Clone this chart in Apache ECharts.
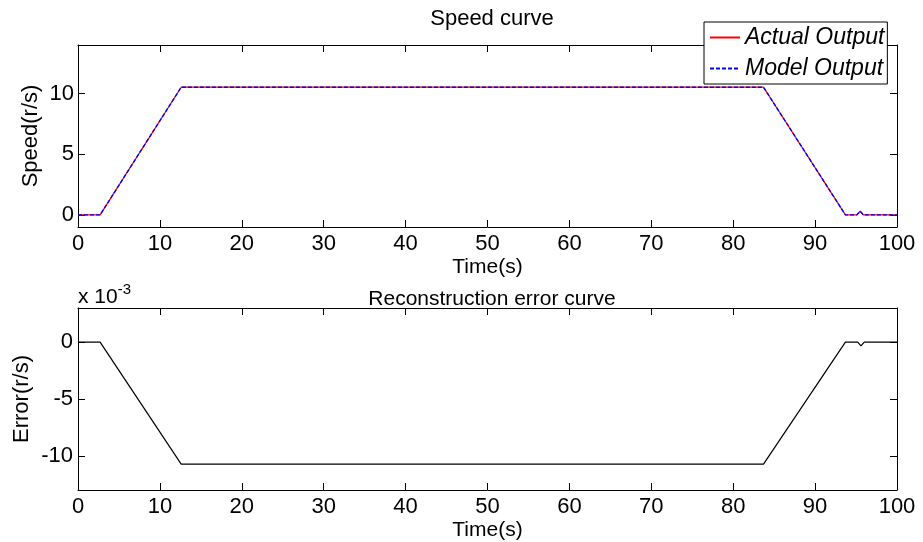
<!DOCTYPE html>
<html>
<head>
<meta charset="utf-8">
<script src="https://cdn.jsdelivr.net/npm/echarts@6/dist/echarts.min.js"></script>
<style>html,body{margin:0;padding:0;background:#fff;}#c{width:923px;height:542px;}</style>
</head>
<body>
<div id="c"></div>
<script>
// Key time points (s)
var timeS = [0, 2.7, 12.6, 83.7, 93.7, 95.1, 95.5, 95.9, 100];
// Speed (r/s)
var actualOutput = [0, 0, 10.52, 10.52, 0, 0, 0.3, 0, 0];
var modelOutput  = [0, 0, 10.52, 10.52, 0, 0, 0.3, 0, 0];
// Reconstruction error (r/s)
var timeE = [0, 2.7, 12.6, 83.7, 93.7, 95.2, 95.6, 96.0, 100];
var errorVals = [0, 0, -0.01073, -0.01073, 0, 0, -0.00033, 0, 0];
var xTicks = [0, 10, 20, 30, 40, 50, 60, 70, 80, 90, 100];

var FONT = 'Liberation Sans, Arial, sans-serif';
var FS = 22;
function pairs(xs, ys) { return xs.map(function (x, i) { return [x, ys[i]]; }); }

var chart = echarts.init(document.getElementById('c'), null, {renderer: 'canvas'});
var axisLine = {show: true, onZero: false, lineStyle: {color: '#000', width: 1}};
var tick = {show: true, inside: true, length: 7, lineStyle: {color: '#000', width: 1}};
var lbl = {color: '#000', fontSize: FS, fontFamily: FONT};

function xMain(grid) {
  return {type: 'value', gridIndex: grid, min: 0, max: 100, interval: 10, position: 'bottom',
    axisLine: axisLine, axisTick: tick, splitLine: {show: false},
    axisLabel: Object.assign({margin: 6}, lbl),
    name: 'Time(s)', nameLocation: 'middle', nameGap: 30, nameMoveOverlap: false,
    nameTextStyle: {color: '#000', fontSize: 21, fontFamily: FONT}};
}
function xTop(grid) {
  return {type: 'value', gridIndex: grid, min: 0, max: 100, interval: 10, position: 'top',
    axisLine: axisLine, axisTick: tick, axisLabel: {show: false}, splitLine: {show: false}};
}

chart.setOption({
  animation: false,
  backgroundColor: '#fff',
  textStyle: {fontFamily: FONT},
  title: [
    {text: 'Speed curve', left: 487, top: 3, textAlign: 'center',
     textStyle: {color: '#000', fontSize: 22, fontWeight: 'normal', fontFamily: FONT}},
    {text: 'Reconstruction error curve', left: 487, top: 284, textAlign: 'center',
     textStyle: {color: '#000', fontSize: 21, fontWeight: 'normal', fontFamily: FONT}}
  ],
  legend: {
    left: 704, top: 22, orient: 'vertical', itemWidth: 30, itemHeight: 10, itemGap: 8,
    backgroundColor: '#fff', borderColor: '#000', borderWidth: 1, padding: [4, 3, 4, 5],
    itemStyle: {opacity: 0},
    textStyle: {color: '#000', fontSize: 23, fontStyle: 'italic', fontFamily: FONT},
    data: ['Actual Output', 'Model Output']
  },
  grid: [
    {left: 78, right: 26, top: 45, height: 182},
    {left: 78, right: 26, top: 308, height: 182}
  ],
  xAxis: [xMain(0), xTop(0), xMain(1), xTop(1)],
  yAxis: [
    {type: 'value', gridIndex: 0, min: -1, max: 14, position: 'left',
     axisLine: axisLine, splitLine: {show: false},
     axisLabel: Object.assign({margin: 4, customValues: [0, 5, 10]}, lbl),
     axisTick: Object.assign({customValues: [0, 5, 10]}, tick),
     name: 'Speed(r/s)', nameLocation: 'middle', nameGap: 36, nameMoveOverlap: false,
     nameTextStyle: {color: '#000', fontSize: 22, fontFamily: FONT}},
    {type: 'value', gridIndex: 0, min: -1, max: 14, position: 'right',
     axisLine: axisLine, axisTick: Object.assign({customValues: [0, 5, 10]}, tick),
     axisLabel: {show: false}, splitLine: {show: false}},
    {type: 'value', gridIndex: 1, min: -0.013, max: 0.003, position: 'left',
     axisLine: axisLine, splitLine: {show: false},
     axisTick: Object.assign({customValues: [-0.01, -0.005, 0]}, tick),
     axisLabel: Object.assign({margin: 5, customValues: [-0.01, -0.005, 0],
       formatter: function (v) { return String(Math.round(v * 1000)); }}, lbl),
     name: 'Error(r/s)', nameLocation: 'middle', nameGap: 45, nameMoveOverlap: false,
     nameTextStyle: {color: '#000', fontSize: 22, fontFamily: FONT}},
    {type: 'value', gridIndex: 1, min: -0.013, max: 0.003, position: 'right',
     axisLine: axisLine, axisTick: Object.assign({customValues: [-0.01, -0.005, 0]}, tick),
     axisLabel: {show: false}, splitLine: {show: false}}
  ],
  graphic: [
    {type: 'text', left: 78, top: 282,
     style: {rich: {a: {fontSize: 21, fontFamily: FONT, fill: '#000', padding: [8, 0, 0, 0]},
                    b: {fontSize: 15, fontFamily: FONT, fill: '#000', padding: [0, 0, 8, 0]}},
             text: '{a|x 10}{b|-3}'}}
  ],
  series: [
    {name: 'Actual Output', type: 'line', xAxisIndex: 0, yAxisIndex: 0, showSymbol: false, symbol: 'none',
     lineStyle: {color: '#ff0000', width: 1.2}, itemStyle: {color: '#ff0000'},
     data: pairs(timeS, actualOutput)},
    {name: 'Model Output', type: 'line', xAxisIndex: 0, yAxisIndex: 0, showSymbol: false, symbol: 'none',
     lineStyle: {color: '#0000ff', width: 1.4, type: [4, 2]}, itemStyle: {color: '#0000ff'},
     data: pairs(timeS, modelOutput)},
    {name: 'Error', type: 'line', xAxisIndex: 2, yAxisIndex: 2, showSymbol: false, symbol: 'none',
     lineStyle: {color: '#000', width: 1.2},
     data: pairs(timeE, errorVals)}
  ]
});
</script>
</body>
</html>
